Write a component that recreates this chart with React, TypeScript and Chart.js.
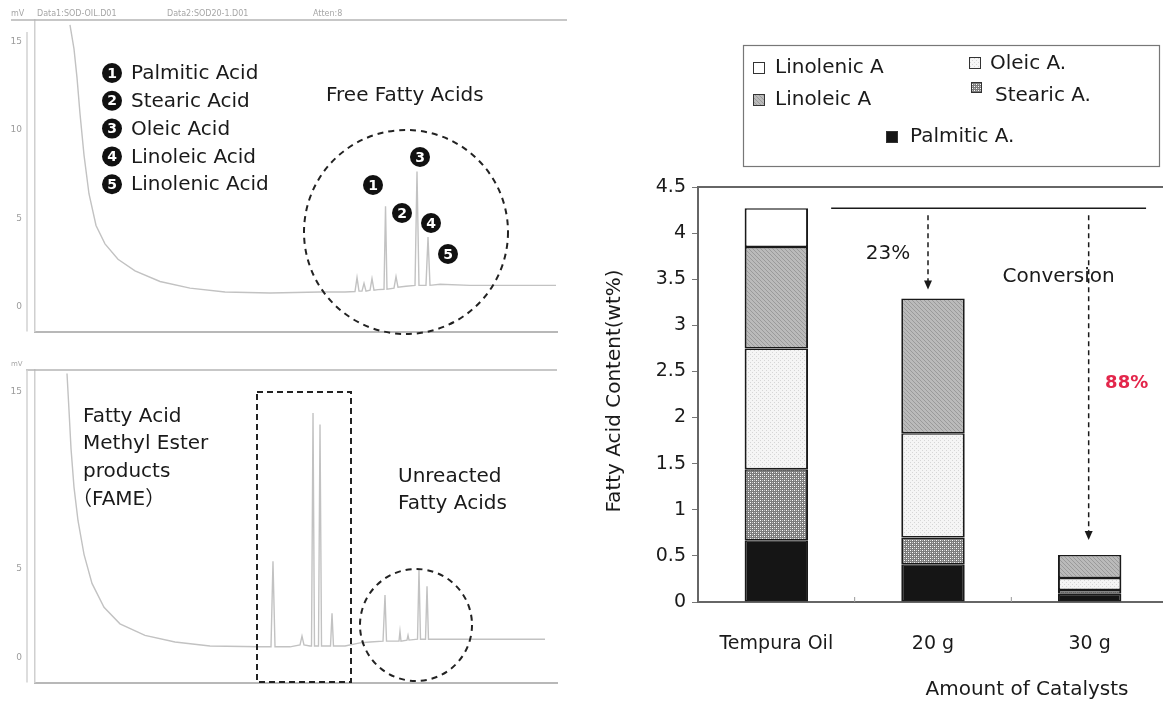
import React, { useEffect, useRef } from 'react';
import { Chart, registerables } from 'chart.js';

Chart.register(...registerables);
Chart.defaults.font.family = "'DejaVu Sans', 'Noto Sans CJK JP', sans-serif";

// ---------- Stacked bar chart: fatty acid content ----------
const catalystLabels = ['Tempura Oil', '20 g', '30 g'];
const palmiticAcid = [0.67, 0.41, 0.09];
const stearicAcid = [0.77, 0.29, 0.04];
const oleicAcid = [1.31, 1.13, 0.13];
const linoleicAcid = [1.1, 1.46, 0.25];
const linolenicAcid = [0.42, 0, 0];
const contentTicks = [0, 0.5, 1, 1.5, 2, 2.5, 3, 3.5, 4, 4.5];

// ---------- Chromatograms (retention time, signal mV) ----------
const ffaTime = [6.7, 7.47, 8.05, 8.62, 9.39, 10.34, 11.69, 13.41, 15.9, 19.16, 23.95, 29.69, 36.4, 45.02, 54.6, 59.39,
  61.3, 61.69, 62.07, 62.64, 63.03, 63.41, 64.18, 64.56, 64.94, 65.71, 66.86, 67.15, 67.43, 68.77, 69.16, 69.54,
  71.07, 72.8, 73.18, 73.56, 74.9, 75.29, 75.67, 77.59, 83.33, 99.81];
const ffaSignal = [15.96, 14.59, 12.95, 10.93, 8.58, 6.39, 4.59, 3.55, 2.68, 2.02, 1.42, 1.04, 0.82, 0.77, 0.82, 0.82,
  0.85, 1.64, 0.87, 0.87, 1.31, 0.87, 0.93, 1.58, 0.93, 0.96, 0.98, 5.68, 0.98, 1.04, 1.69, 1.09,
  1.15, 1.2, 7.65, 1.2, 1.2, 3.93, 1.2, 1.26, 1.2, 1.2];
const fameTime = [6.13, 6.51, 6.9, 7.47, 8.24, 9.39, 10.92, 13.22, 16.28, 21.07, 26.82, 33.52, 43.1, 45.21, 45.59, 45.98,
  48.85, 50.77, 51.15, 51.53, 52.68, 52.97, 53.26, 53.54, 54.31, 54.6, 54.89, 56.61, 56.9, 57.18, 59.39, 62.26,
  64.18, 66.67, 67.05, 67.34, 68.97, 69.73, 69.92, 70.11, 71.26, 71.46, 71.65, 73.28, 73.56, 73.85, 74.81, 75.1,
  75.38, 77.59, 97.7];
const fameSignal = [16.03, 13.97, 11.79, 9.62, 7.72, 5.82, 4.18, 2.83, 1.9, 1.25, 0.87, 0.65, 0.6, 0.6, 5.43, 0.6,
  0.6, 0.71, 1.2, 0.71, 0.65, 0.65, 13.8, 0.65, 0.65, 13.15, 0.65, 0.65, 2.5, 0.65, 0.65, 0.82,
  0.87, 0.92, 3.53, 0.92, 0.92, 0.92, 1.47, 0.92, 0.98, 1.25, 0.98, 1.03, 5.0, 1.03, 1.03, 4.02,
  1.03, 1.03, 1.03];
const ffaSignalTicks = [0, 5, 10, 15];
const fameSignalTicks = [0, 5, 15];
const acidNames = ['Palmitic Acid', 'Stearic Acid', 'Oleic Acid', 'Linoleic Acid', 'Linolenic Acid'];

const INK = '#1a1a1a';
const FONT = "'DejaVu Sans', 'Noto Sans CJK JP', sans-serif";

function makeFill(kind: string): any {
  const c = document.createElement('canvas');
  c.width = 4;
  c.height = 4;
  const g = c.getContext('2d') as CanvasRenderingContext2D;
  if (kind === 'stearic') {
    g.fillStyle = '#7c7c7c';
    g.fillRect(0, 0, 4, 4);
    g.fillStyle = '#ffffff';
    g.fillRect(0, 0, 1, 1);
    g.fillRect(2, 2, 1, 1);
    g.fillStyle = '#c4c4c4';
    g.fillRect(2, 0, 1, 1);
    g.fillRect(0, 2, 1, 1);
  } else if (kind === 'oleic') {
    g.fillStyle = '#f5f5f5';
    g.fillRect(0, 0, 4, 4);
    g.fillStyle = '#d6d6d6';
    g.fillRect(0, 0, 1, 1);
    g.fillRect(2, 2, 1, 1);
  } else if (kind === 'linoleic') {
    g.fillStyle = '#bababa';
    g.fillRect(0, 0, 4, 4);
    g.fillStyle = '#9a9a9a';
    for (let i = 0; i < 4; i++) g.fillRect(i, i, 1, 1);
  } else {
    return kind;
  }
  return g.createPattern(c, 'repeat');
}

function line(ctx: CanvasRenderingContext2D, x1: number, y1: number, x2: number, y2: number) {
  ctx.beginPath();
  ctx.moveTo(x1, y1);
  ctx.lineTo(x2, y2);
  ctx.stroke();
}

function badge(ctx: CanvasRenderingContext2D, cx: number, cy: number, n: number) {
  ctx.beginPath();
  ctx.arc(cx, cy, 10, 0, Math.PI * 2);
  ctx.fillStyle = '#111';
  ctx.fill();
  ctx.fillStyle = '#fff';
  ctx.font = `bold 14px ${FONT}`;
  ctx.textAlign = 'center';
  ctx.textBaseline = 'middle';
  ctx.fillText(String(n), cx, cy + 1);
}

function dashedArrow(ctx: CanvasRenderingContext2D, x: number, y1: number, y2: number) {
  ctx.save();
  ctx.strokeStyle = INK;
  ctx.lineWidth = 1.5;
  ctx.setLineDash([5, 4]);
  line(ctx, x, y1, x, y2 - 8);
  ctx.setLineDash([]);
  ctx.fillStyle = INK;
  ctx.beginPath();
  ctx.moveTo(x - 4, y2 - 9);
  ctx.lineTo(x + 4, y2 - 9);
  ctx.lineTo(x, y2);
  ctx.closePath();
  ctx.fill();
  ctx.restore();
}

function chromOptions(signalTicks: number[], axisHeight: number) {
  return {
    animation: false,
    responsive: false,
    maintainAspectRatio: false,
    layout: { padding: { top: 20, right: 23, left: 0, bottom: 0 } },
    plugins: { legend: { display: false }, tooltip: { enabled: false } },
    elements: { point: { radius: 0 } },
    scales: {
      x: {
        type: 'linear',
        min: 0,
        max: 100,
        grid: { display: false, drawTicks: false },
        ticks: { display: false },
        border: { color: '#b8b8b8', width: 2 },
        afterFit: (s: any) => { s.height = axisHeight; },
      },
      y: {
        type: 'linear',
        min: -1.42,
        max: 16.23,
        grid: { display: false, drawTicks: false },
        border: { color: '#cfcfcf', width: 1.5 },
        ticks: { color: '#9c9c9c', font: { size: 9 }, padding: 13 },
        afterFit: (s: any) => { s.width = 35; },
        afterBuildTicks: (s: any) => { s.ticks = signalTicks.map((v) => ({ value: v })); },
      },
    },
  } as any;
}

function traceDataset(times: number[], signal: number[]) {
  return {
    data: times.map((t, i) => ({ x: t, y: signal[i] })),
    borderColor: '#c2c2c2',
    borderWidth: 1.4,
    pointRadius: 0,
    tension: 0,
    fill: false,
  };
}

const ffaOverlay = {
  id: 'ffaOverlay',
  afterDraw(chart: any) {
    const ctx: CanvasRenderingContext2D = chart.ctx;
    const ca = chart.chartArea;
    ctx.save();
    // header strip
    ctx.fillStyle = '#a6a6a6';
    ctx.font = `8px ${FONT}`;
    ctx.textBaseline = 'middle';
    ctx.textAlign = 'left';
    ctx.fillText('mV', 11, 14);
    ctx.fillText('Data1:SOD-OIL.D01', 37, 14);
    ctx.fillText('Data2:SOD20-1.D01', 167, 14);
    ctx.fillText('Atten:8', 313, 14);
    ctx.strokeStyle = '#b4b4b4';
    ctx.lineWidth = 1.5;
    line(ctx, 11, ca.top, 567, ca.top);
    ctx.strokeStyle = '#d2d2d2';
    line(ctx, 27, ca.top + 12, 27, ca.bottom);

    // peak assignment list
    acidNames.forEach((name, i) => {
      const cy = 73 + i * 27.8;
      badge(ctx, 112, cy, i + 1);
      ctx.fillStyle = INK;
      ctx.font = `20px ${FONT}`;
      ctx.textAlign = 'left';
      ctx.textBaseline = 'middle';
      ctx.fillText(name, 131, cy + 1);
    });
    ctx.fillStyle = INK;
    ctx.font = `20px ${FONT}`;
    ctx.textAlign = 'left';
    ctx.fillText('Free Fatty Acids', 326, 96);

    // dashed ring around the acid peaks
    ctx.strokeStyle = '#222';
    ctx.lineWidth = 2;
    ctx.setLineDash([6, 5]);
    ctx.beginPath();
    ctx.arc(406, 232, 102, 0, Math.PI * 2);
    ctx.stroke();
    ctx.setLineDash([]);

    const marks: [number, number][] = [[373, 185], [402, 213], [420, 157], [431, 223], [448, 254]];
    marks.forEach(([x, y], i) => badge(ctx, x, y, i + 1));
    ctx.restore();
  },
};

const fameOverlay = {
  id: 'fameOverlay',
  afterDraw(chart: any) {
    const ctx: CanvasRenderingContext2D = chart.ctx;
    const ca = chart.chartArea;
    ctx.save();
    ctx.fillStyle = '#a6a6a6';
    ctx.font = `7px ${FONT}`;
    ctx.textBaseline = 'middle';
    ctx.fillText('mV', 11, 14);
    ctx.strokeStyle = '#b4b4b4';
    ctx.lineWidth = 1.5;
    line(ctx, 26, ca.top, 557, ca.top);
    ctx.strokeStyle = '#d2d2d2';
    line(ctx, 27, ca.top, 27, ca.bottom);

    ctx.fillStyle = INK;
    ctx.font = `20px ${FONT}`;
    ctx.textAlign = 'left';
    ctx.textBaseline = 'middle';
    ctx.fillText('Fatty Acid', 83, 67);
    ctx.fillText('Methyl Ester', 83, 94);
    ctx.fillText('products', 83, 122);
    ctx.fillText('（FAME）', 72, 150);
    ctx.fillText('Unreacted', 398, 127);
    ctx.fillText('Fatty Acids', 398, 154);

    ctx.strokeStyle = '#222';
    ctx.lineWidth = 2;
    ctx.setLineDash([6, 4]);
    ctx.strokeRect(257, 42, 94, 290);
    ctx.setLineDash([6, 5]);
    ctx.beginPath();
    ctx.arc(416, 275, 56, 0, Math.PI * 2);
    ctx.stroke();
    ctx.restore();
  },
};

export default function App() {
  const ffaRef = useRef<HTMLCanvasElement>(null);
  const fameRef = useRef<HTMLCanvasElement>(null);
  const barRef = useRef<HTMLCanvasElement>(null);

  useEffect(() => {
    const fills = {
      palmitic: makeFill('#151515'),
      stearic: makeFill('stearic'),
      oleic: makeFill('oleic'),
      linoleic: makeFill('linoleic'),
      linolenic: makeFill('#ffffff'),
    };

    const ffaChart = new Chart(ffaRef.current as HTMLCanvasElement, {
      type: 'line',
      data: { datasets: [traceDataset(ffaTime, ffaSignal)] },
      options: chromOptions(ffaSignalTicks, 7),
      plugins: [ffaOverlay],
    } as any);

    const fameChart = new Chart(fameRef.current as HTMLCanvasElement, {
      type: 'line',
      data: { datasets: [traceDataset(fameTime, fameSignal)] },
      options: chromOptions(fameSignalTicks, 8),
      plugins: [fameOverlay],
    } as any);

    const totals = catalystLabels.map(
      (_, i) => palmiticAcid[i] + stearicAcid[i] + oleicAcid[i] + linoleicAcid[i] + linolenicAcid[i]
    );

    const legendItems: { label: string; fill: any; box: [number, number, number]; text: [number, number] }[] = [
      { label: 'Linolenic A', fill: fills.linolenic, box: [173, 62, 12], text: [195, 68] },
      { label: 'Linoleic A', fill: fills.linoleic, box: [173, 94, 12], text: [195, 100] },
      { label: 'Oleic A.', fill: fills.oleic, box: [389, 57, 12], text: [410, 64] },
      { label: 'Stearic A.', fill: fills.stearic, box: [391, 82, 11], text: [415, 96] },
      { label: 'Palmitic A.', fill: fills.palmitic, box: [306, 131, 12], text: [330, 137] },
    ];

    const barOverlay = {
      id: 'barOverlay',
      afterDraw(chart: any) {
        const ctx: CanvasRenderingContext2D = chart.ctx;
        const ca = chart.chartArea;
        const xs = chart.scales.x;
        const ys = chart.scales.y;
        const step = xs.getPixelForValue(1) - xs.getPixelForValue(0);
        ctx.save();

        // frame top edge and inner category ticks
        ctx.strokeStyle = '#666';
        ctx.lineWidth = 2;
        line(ctx, ca.left, ca.top, ca.right, ca.top);
        ctx.lineWidth = 1;
        ctx.strokeStyle = '#999';
        for (let i = 0; i < catalystLabels.length - 1; i++) {
          const px = xs.getPixelForValue(i) + step / 2;
          line(ctx, px, ca.bottom, px, ca.bottom - 5);
        }

        // legend
        ctx.strokeStyle = '#777';
        ctx.lineWidth = 1.2;
        ctx.strokeRect(163.5, 45.5, 416, 121);
        legendItems.forEach((it) => {
          const [bx, by, bs] = it.box;
          ctx.fillStyle = it.fill;
          ctx.fillRect(bx, by, bs, bs);
          ctx.strokeStyle = '#333';
          ctx.lineWidth = 1;
          ctx.strokeRect(bx + 0.5, by + 0.5, bs - 1, bs - 1);
          ctx.fillStyle = INK;
          ctx.font = `20px ${FONT}`;
          ctx.textAlign = 'left';
          ctx.textBaseline = 'middle';
          ctx.fillText(it.label, it.text[0], it.text[1]);
        });

        // reference level of the untreated oil and conversion arrows
        const y0 = ys.getPixelForValue(totals[0]);
        ctx.strokeStyle = INK;
        ctx.lineWidth = 1.5;
        line(ctx, xs.getPixelForValue(0) + 0.35 * step, y0, xs.getPixelForValue(2) + 0.36 * step, y0);

        const a1 = xs.getPixelForValue(1) - 5;
        const a2 = xs.getPixelForValue(2) - 1;
        const y1 = ys.getPixelForValue(totals[1]);
        const y2 = ys.getPixelForValue(totals[2]);

        ctx.fillStyle = INK;
        ctx.font = `20px ${FONT}`;
        ctx.textAlign = 'center';
        ctx.textBaseline = 'middle';
        ctx.fillText('Conversion', a2 - 30, y0 + 69);
        const conv = (i: number) => `${Math.round((1 - totals[i] / totals[0]) * 100)}%`;
        ctx.fillText(conv(1), a1 - 40, (y0 + y1) / 2);

        dashedArrow(ctx, a1, y0 + 7, y1 - 9);
        dashedArrow(ctx, a2, y0 + 7, y2 - 15);

        ctx.fillStyle = '#e3264b';
        ctx.font = `bold 18px ${FONT}`;
        ctx.fillText(conv(2), a2 + 38, (y0 + y2) / 2 + 2);

        // axis titles
        ctx.fillStyle = INK;
        ctx.font = `20px ${FONT}`;
        ctx.fillText('Amount of Catalysts', 447, 690);
        ctx.translate(35, 391);
        ctx.rotate(-Math.PI / 2);
        ctx.fillText('Fatty Acid Content(wt%)', 0, 0);
        ctx.restore();
      },
    };

    const seg = (label: string, data: number[], fill: any) => ({
      label,
      data,
      backgroundColor: fill,
      borderColor: INK,
      borderWidth: { left: 2, right: 2, top: 1.5, bottom: 1.5 },
      borderSkipped: false,
      stack: 'acids',
      categoryPercentage: 1,
      barPercentage: 0.405,
    });

    const barChart = new Chart(barRef.current as HTMLCanvasElement, {
      type: 'bar',
      data: {
        labels: catalystLabels,
        datasets: [
          seg('Palmitic A.', palmiticAcid, fills.palmitic),
          seg('Stearic A.', stearicAcid, fills.stearic),
          seg('Oleic A.', oleicAcid, fills.oleic),
          seg('Linoleic A', linoleicAcid, fills.linoleic),
          seg('Linolenic A', linolenicAcid, fills.linolenic),
        ],
      },
      options: {
        animation: false,
        responsive: false,
        maintainAspectRatio: false,
        layout: { padding: { top: 187, right: 2, left: 0, bottom: 0 } },
        plugins: { legend: { display: false }, tooltip: { enabled: false } },
        scales: {
          x: {
            stacked: true,
            grid: { display: false, drawTicks: false },
            border: { color: '#666', width: 2 },
            ticks: { padding: 31, color: INK, font: { size: 19 } },
            afterFit: (s: any) => { s.height = 99; },
          },
          y: {
            stacked: true,
            min: 0,
            max: 4.5,
            grid: { drawOnChartArea: false, tickLength: 6, color: '#777' },
            border: { color: '#666', width: 2 },
            ticks: { padding: 6, color: INK, font: { size: 19 }, callback: (v: any) => String(v) },
            afterFit: (s: any) => { s.width = 118; },
            afterBuildTicks: (s: any) => { s.ticks = contentTicks.map((v) => ({ value: v })); },
          },
        },
      },
      plugins: [barOverlay],
    } as any);

    return () => {
      ffaChart.destroy();
      fameChart.destroy();
      barChart.destroy();
    };
  }, []);

  return (
    <div style={{ position: 'fixed', left: 0, top: 0, width: 1163, height: 701, overflow: 'hidden', background: '#fff' }}>
      <canvas ref={ffaRef} width={580} height={350} style={{ position: 'absolute', left: 0, top: 0 }} />
      <canvas ref={fameRef} width={580} height={351} style={{ position: 'absolute', left: 0, top: 350 }} />
      <canvas ref={barRef} width={590} height={701} style={{ position: 'absolute', left: 580, top: 0 }} />
    </div>
  );
}
